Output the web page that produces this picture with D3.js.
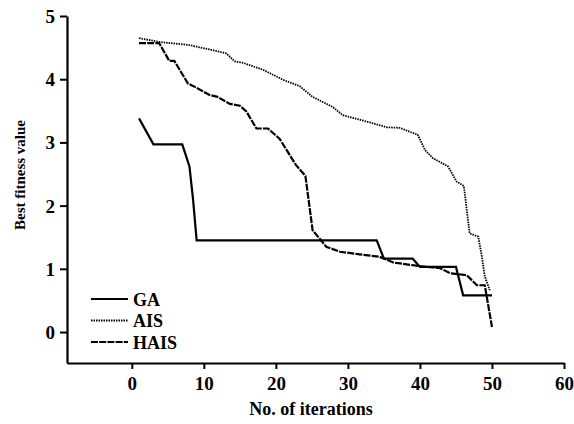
<!DOCTYPE html>
<html>
<head>
<meta charset="utf-8">
<script src="https://cdn.jsdelivr.net/npm/d3@7"></script>
<style>
  body { margin: 0; background: #fff; }
</style>
</head>
<body>
<div id="chart"></div>
<script>
// Data
const gaIter   = [1, 3, 7, 8, 8.5, 9, 34, 35, 39, 40, 45, 46, 50];
const gaValue  = [3.38, 2.97, 2.97, 2.62, 2.1, 1.45, 1.45, 1.16, 1.16, 1.03, 1.03, 0.58, 0.58];

const aisIter  = [1, 3.8, 8, 11.2, 13.1, 14.3, 15.4, 18.2, 21, 23.3, 25.1, 27.9, 29.3, 32.6, 35.4, 37.2, 39.7, 40.7, 41.8, 43.9, 45.1, 46.1, 46.5, 46.9, 48.1, 48.6, 49, 49.7];
const aisValue = [4.65, 4.59, 4.54, 4.46, 4.41, 4.28, 4.26, 4.15, 3.99, 3.89, 3.72, 3.56, 3.43, 3.33, 3.24, 3.23, 3.12, 2.88, 2.75, 2.62, 2.38, 2.31, 1.93, 1.56, 1.51, 1.19, 0.88, 0.66];

const haisIter  = [1, 3.8, 5.2, 5.9, 7.8, 8.9, 10.8, 11.9, 13.6, 15, 15.9, 17.3, 18.9, 20.5, 22.8, 24.1, 25.1, 27, 28.9, 31.6, 34.4, 36.3, 39.5, 42.8, 44.2, 46.5, 47.9, 49, 50];
const haisValue = [4.57, 4.57, 4.29, 4.29, 3.93, 3.87, 3.75, 3.72, 3.61, 3.58, 3.49, 3.22, 3.22, 3.06, 2.64, 2.47, 1.61, 1.35, 1.27, 1.23, 1.19, 1.10, 1.05, 1.01, 0.93, 0.90, 0.74, 0.74, 0.08];

const xTicks = [0, 10, 20, 30, 40, 50, 60];
const yTicks = [0, 1, 2, 3, 4, 5];
const seriesNames = ["GA", "AIS", "HAIS"];

const WIDTH = 574;
const HEIGHT = 424;
const FONT = "'Times New Roman', 'Liberation Serif', 'DejaVu Serif', serif";

const svg = d3.select("#chart")
    .append("svg")
    .attr("width", WIDTH)
    .attr("height", HEIGHT)
    .attr("font-family", FONT)
    .attr("font-weight", "bold");

const x = d3.scaleLinear().domain([-9, 60]).range([67, 564]);
const y = d3.scaleLinear().domain([-0.49, 5]).range([363, 16]);

// Axes
const xAxis = svg.append("g")
    .attr("transform", "translate(0,363)")
    .call(d3.axisBottom(x).tickValues(xTicks).tickFormat(d3.format("d"))
        .tickSize(6).tickSizeOuter(0).tickPadding(8));
const yAxis = svg.append("g")
    .attr("transform", "translate(67,0)")
    .call(d3.axisLeft(y).tickValues(yTicks).tickFormat(d3.format("d"))
        .tickSize(7).tickSizeOuter(0).tickPadding(5));

[xAxis, yAxis].forEach(a => {
    a.attr("font-family", FONT).attr("font-size", 19).attr("font-weight", "bold");
    a.select(".domain").attr("stroke-width", 2.2).attr("stroke", "#000");
    a.selectAll(".tick line").attr("stroke-width", 2).attr("stroke", "#000");
    a.selectAll(".tick text").attr("fill", "#000");
});
yAxis.selectAll(".tick text").attr("dy", "0.34em");

// Axis titles
svg.append("text")
    .attr("x", 311)
    .attr("y", 415)
    .attr("text-anchor", "middle")
    .attr("font-size", 18)
    .text("No. of iterations");

svg.append("text")
    .attr("transform", "translate(25,175) rotate(-90)")
    .attr("text-anchor", "middle")
    .attr("font-size", 15)
    .text("Best fitness value");

// Lines
const series = [
    { name: seriesNames[0], xs: gaIter, ys: gaValue, dash: null, width: 2.2 },
    { name: seriesNames[1], xs: aisIter, ys: aisValue, dash: "1.5,1", width: 1.8 },
    { name: seriesNames[2], xs: haisIter, ys: haisValue, dash: "7,1.2", width: 2.2 }
];

const line = d3.line()
    .x(d => x(d[0]))
    .y(d => y(d[1]));

series.forEach(s => {
    svg.append("path")
        .datum(s.xs.map((v, i) => [v, s.ys[i]]))
        .attr("fill", "none")
        .attr("stroke", "#000")
        .attr("stroke-width", s.width)
        .attr("stroke-dasharray", s.dash)
        .attr("d", line);
});

// Legend
const legend = svg.append("g");
series.forEach((s, i) => {
    const ly = 299 + i * 21.5;
    legend.append("line")
        .attr("x1", 91).attr("x2", 128)
        .attr("y1", ly).attr("y2", ly)
        .attr("stroke", "#000")
        .attr("stroke-width", s.width)
        .attr("stroke-dasharray", s.dash);
    legend.append("text")
        .attr("x", 133)
        .attr("y", ly + 6.5)
        .attr("font-size", 18)
        .text(s.name);
});
</script>
</body>
</html>
